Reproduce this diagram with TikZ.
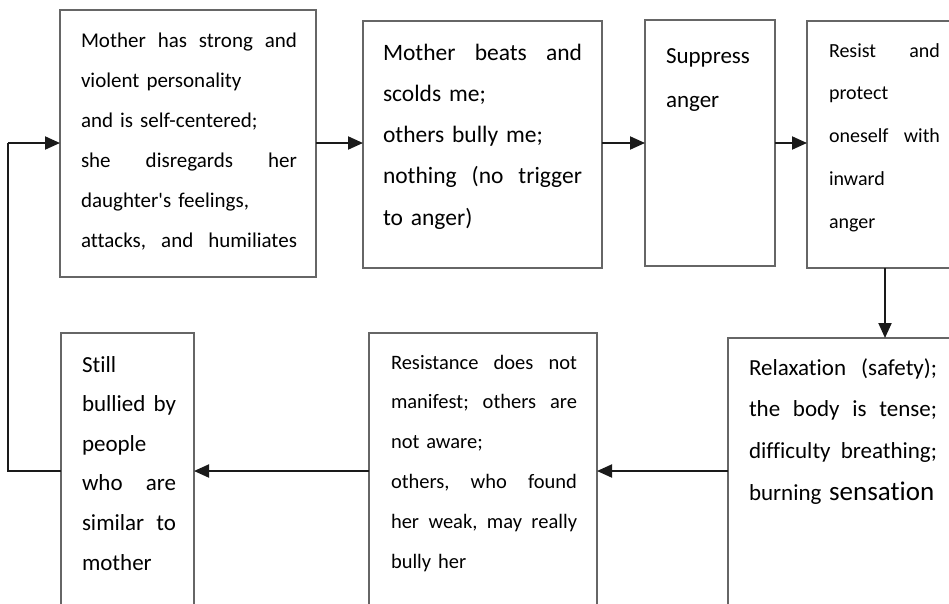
\documentclass[tikz,border=0pt]{standalone}
\usepackage{fontspec}
\setmainfont[Ligatures={NoCommon}]{Carlito}
\usetikzlibrary{arrows.meta}
\definecolor{frame}{HTML}{666666}
\definecolor{ink}{HTML}{1A1A1A}
% a line spread over the full column (words split by \wgap), or set flush left
\newcommand{\wgap}{\hfill\ }
\newcommand{\fullline}[1]{\hbox to \hsize{#1}}
\newcommand{\shortline}[1]{\hbox to \hsize{#1\hfil}}
\newcommand{\fs}[2]{\fontsize{#1pt}{#2pt}\selectfont}
\tikzset{
  box/.style={draw=frame, line width=1.8pt, anchor=north west, inner sep=0pt, outer sep=0pt},
  txt/.style={anchor=base west, inner sep=0pt, outer sep=0pt, text=black},
  link/.style={draw=ink, line width=2pt, -{Triangle[length=15pt,width=13pt]}},
  feed/.style={draw=ink, line width=1.8pt}
}
\begin{document}
\begin{tikzpicture}[x=1pt, y=-1pt]
\clip[use as bounding box] (0,0) rectangle (949,603);
\fill[white] (0,0) rectangle (949,603);

% boxes
\node[box, minimum width=256pt, minimum height=267pt] (b1) at (60,10) {};
\node[box, minimum width=239pt, minimum height=247pt] (b2) at (363,21) {};
\node[box, minimum width=130pt, minimum height=246pt] (b3) at (645,20) {};
\node[box, minimum width=170pt, minimum height=247pt] (b4) at (807,21) {};
\node[box, minimum width=250pt, minimum height=290pt] (b5) at (728,338) {};
\node[box, minimum width=228pt, minimum height=290pt] (b6) at (369,333) {};
\node[box, minimum width=133pt, minimum height=290pt] (b7) at (61,333) {};

% texts
\node[txt, text width=216pt, font=\fs{21}{40}] (t1) at (81,47) {%
  \fullline{Mother\wgap has\wgap strong\wgap and}
  \shortline{violent personality}
  \shortline{and is self-centered;}
  \fullline{she\wgap disregards\wgap her}
  \shortline{daughter\textquotesingle s feelings,}
  \fullline{attacks,\wgap and\wgap humiliates}};
\node[txt, text width=199pt, font=\fs{23.5}{41.25}] (t2) at (383,60) {%
  \fullline{Mother\wgap beats\wgap and}
  \shortline{scolds me;}
  \shortline{others bully me;}
  \fullline{nothing\wgap (no\wgap trigger}
  \shortline{to anger)}};
\node[txt, text width=100pt, font=\fs{23}{44}] (t3) at (666,63) {%
  \shortline{Suppress}
  \shortline{anger}};
\node[txt, text width=111pt, font=\fs{20}{42.75}] (t4) at (829,57) {%
  \fullline{Resist\wgap and}
  \shortline{protect}
  \fullline{oneself\wgap with}
  \shortline{inward}
  \shortline{anger}};
\node[txt, text width=188pt, font=\fs{23}{41.7}] (t5) at (749,375) {%
  \fullline{Relaxation\wgap (safety);}
  \fullline{the\wgap body\wgap is\wgap tense;}
  \fullline{difficulty\wgap breathing;}
  \shortline{burning {\fontsize{27pt}{41.7pt}\selectfont sensation}}};
\node[txt, text width=186pt, font=\fs{20.5}{39.9}] (t6) at (391,369) {%
  \fullline{Resistance\wgap does\wgap not}
  \fullline{manifest;\wgap others\wgap are}
  \shortline{not aware;}
  \fullline{others,\wgap who\wgap found}
  \fullline{her\wgap weak,\wgap may\wgap really}
  \shortline{bully her}};
\node[txt, text width=94pt, font=\fs{23}{39.6}] (t7) at (82,372) {%
  \shortline{Still}
  \fullline{bullied\wgap by}
  \shortline{people}
  \fullline{who\wgap are}
  \fullline{similar\wgap to}
  \shortline{mother}};

% connector rows and column
\coordinate (toprow) at (0,143);
\coordinate (lowrow) at (0,471);
\coordinate (downcol) at (885,0);
\coordinate (loopcol) at (8,0);

\draw[link] (b1.east |- toprow) -- (b2.west |- toprow);
\draw[link] (b2.east |- toprow) -- (b3.west |- toprow);
\draw[link] (b3.east |- toprow) -- (b4.west |- toprow);
\draw[link] (b4.south -| downcol) -- (b5.north -| downcol);
\draw[link] (b5.west |- lowrow) -- (b6.east |- lowrow);
\draw[link] (b6.west |- lowrow) -- (b7.east |- lowrow);
\draw[feed] (b7.west |- lowrow) -- (loopcol |- lowrow) -- (loopcol |- toprow);
\draw[link] (loopcol |- toprow) -- (b1.west |- toprow);
\end{tikzpicture}
\end{document}
